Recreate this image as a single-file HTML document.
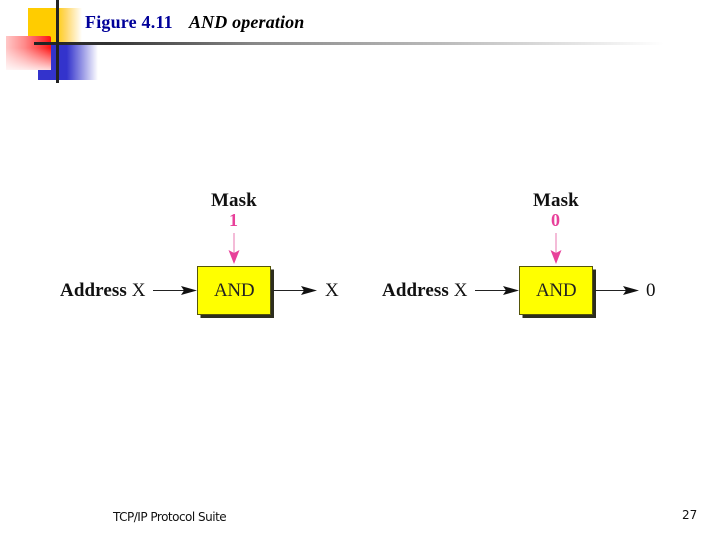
<!DOCTYPE html>
<html>
<head>
<meta charset="utf-8">
<style>
html,body{margin:0;padding:0;background:#fff}
#p{position:relative;width:720px;height:540px;overflow:hidden;background:#fff}
.a{position:absolute}
.t{position:absolute;white-space:nowrap;font-family:"Liberation Serif",serif;line-height:1;filter:blur(.25px)}
.s{position:absolute;white-space:nowrap;font-family:"DejaVu Sans","Liberation Sans",sans-serif;line-height:1;color:#111}
</style>
</head>
<body>
<div id="p">
<div class="a" style="left:28px;top:8px;width:54px;height:42px;background:linear-gradient(90deg,#fc0 0,#fc0 50%,#ffd766 70%,#fff 100%)"></div>
<div class="a" style="left:38px;top:45px;width:60px;height:35px;background:linear-gradient(90deg,#3333cc 0,#3333cc 48%,#8f8fe3 72%,#fff 100%)"></div>
<div class="a" style="left:6px;top:36px;width:45px;height:34px;background:linear-gradient(180deg,rgba(255,255,255,0) 0,rgba(255,255,255,0) 35%,rgba(255,255,255,.85) 100%),linear-gradient(90deg,#ffc8c8 0,#ff8c8c 40%,#f33 85%,#f11 100%);border-radius:0 2px 0 0"></div>
<div class="a" style="left:34px;top:42px;width:630px;height:3px;background:linear-gradient(90deg,#222 0,#333 12%,#888 35%,#bbb 65%,#fff 100%)"></div>
<div class="a" style="left:56px;top:0;width:3px;height:83px;background:#222"></div>

<div class="t" style="left:85px;top:13px;font-size:18px;font-weight:bold;letter-spacing:.2px;color:#000099">Figure 4.11</div>
<div class="t" style="left:189px;top:13px;font-size:18px;font-weight:bold;font-style:italic;letter-spacing:.15px;color:#000">AND operation</div>

<svg class="a" style="left:0;top:0" width="720" height="540" viewBox="0 0 720 540">
<rect x="200.500" y="269.500" width="73.500" height="48.500" fill="#2d2d1e"/>
<rect x="197.500" y="266.500" width="73" height="48" fill="#ffff00" stroke="#55550a" stroke-width="1"/>
<rect x="522.500" y="269.500" width="73.500" height="48.500" fill="#2d2d1e"/>
<rect x="519.500" y="266.500" width="73" height="48" fill="#ffff00" stroke="#55550a" stroke-width="1"/>

<g stroke="#222" stroke-width="1" fill="none">
<line x1="153" y1="290.500" x2="190" y2="290.500"/>
<line x1="273" y1="290.500" x2="310" y2="290.500"/>
<line x1="475" y1="290.500" x2="512" y2="290.500"/>
<line x1="595" y1="290.500" x2="632" y2="290.500"/>
</g>
<g fill="#111">
<path d="M181 286 L197 290.500 L181 295 L184 290.500Z"/>
<path d="M301 286 L317 290.500 L301 295 L304 290.500Z"/>
<path d="M503 286 L519 290.500 L503 295 L506 290.500Z"/>
<path d="M623 286 L639 290.500 L623 295 L626 290.500Z"/>
</g>
<g stroke="#e878b0" stroke-width="1">
<line x1="234" y1="233" x2="234" y2="255"/>
<line x1="556" y1="233" x2="556" y2="255"/>
</g>
<g fill="#e8409a">
<path d="M228.500 250 L234 264 L239.500 250 L234 253Z"/>
<path d="M550.500 250 L556 264 L561.500 250 L556 253Z"/>
</g>
</svg>

<div class="t" style="left:211px;top:191px;font-size:19px;font-weight:bold;letter-spacing:.1px;color:#111">Mask</div>
<div class="t" style="left:533px;top:191px;font-size:19px;font-weight:bold;letter-spacing:.1px;color:#111">Mask</div>
<div class="t" style="left:229px;top:211px;font-size:18px;font-weight:bold;color:#e8409a">1</div>
<div class="t" style="left:551px;top:211px;font-size:18px;font-weight:bold;color:#e8409a">0</div>

<div class="t" style="left:60px;top:281px;font-size:19px;letter-spacing:.1px;color:#111"><b>Address</b> X</div>
<div class="t" style="left:382px;top:281px;font-size:19px;letter-spacing:.1px;color:#111"><b>Address</b> X</div>
<div class="t" style="left:214px;top:281px;font-size:19px;color:#222;letter-spacing:-.3px">AND</div>
<div class="t" style="left:536px;top:281px;font-size:19px;color:#222;letter-spacing:-.3px">AND</div>
<div class="t" style="left:325px;top:281px;font-size:19px;color:#111">X</div>
<div class="t" style="left:646px;top:281px;font-size:19px;color:#111">0</div>

<div class="s" style="left:113px;top:511px;font-size:12px;letter-spacing:-.5px">TCP/IP Protocol Suite</div>
<div class="s" style="left:682px;top:509px;font-size:12px">27</div>
</div>
</body>
</html>
